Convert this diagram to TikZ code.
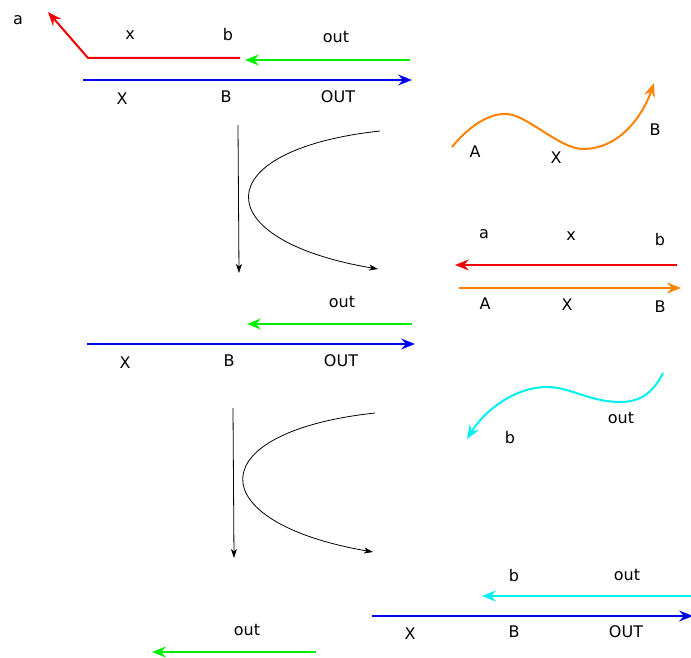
\documentclass[tikz,border=0pt]{standalone}
\usepackage{fontspec}
\setmainfont{DejaVu Sans}
\usetikzlibrary{arrows.meta}
\definecolor{cgreen}{RGB}{0,240,0}
\definecolor{cblue}{RGB}{0,0,240}
\definecolor{cred}{RGB}{240,0,0}
\definecolor{corange}{RGB}{255,130,0}
\definecolor{ccyan}{RGB}{0,240,240}
\begin{document}
\begin{tikzpicture}[x=1pt,y=-1pt,
  lbl/.style={inner sep=0pt,font=\fontsize{16}{18}\selectfont},
  thick line/.style={line width=2pt,-{Stealth[length=14pt,width=11pt,inset=5pt]}},
  thin line/.style={line width=0.8pt,-{Stealth[length=9pt,width=6pt,inset=2.5pt]}}]
\useasboundingbox (0,0) rectangle (691,658);
% top block
\coordinate (r1) at (240,58); \coordinate (r2) at (88,58); \coordinate (r3) at (48,12);
\draw[thick line,cred] (r1) -- (r2) -- (r3);
\node[lbl] (la1) at (18,20) {a};
\node[lbl] (lx1) at (130,35) {x};
\node[lbl] (lb1) at (228,35) {b};
\coordinate (g1s) at (410,60); \coordinate (g1e) at (245,60);
\draw[thick line,cgreen] (g1s) -- (g1e);
\node[lbl] (lo1) at (336,37) {out};
\coordinate (b1s) at (83,80); \coordinate (b1e) at (412,80);
\draw[thick line,cblue] (b1s) -- (b1e);
\node[lbl] (lX1) at (122,99) {X};
\node[lbl] (lB1) at (226,97) {B};
\node[lbl] (lO1) at (338,97) {OUT};
% black arrows 1
\coordinate (v1s) at (238,125); \coordinate (v1e) at (239,273);
\draw[thin line] (v1s) -- (v1e);
\coordinate (c1s) at (380,131); \coordinate (c1e) at (378,269);
\draw[thin line] (c1s) .. controls (206,150) and (206,240) .. (c1e);
% orange curve
\coordinate (o1) at (452,147); \coordinate (o2) at (507,114);
\coordinate (o3) at (583,149); \coordinate (o4) at (654,83);
\draw[thick line,corange] (o1) .. controls (470,125) and (490,113) .. (o2)
  .. controls (527,115) and (560,149) .. (o3)
  .. controls (620,149) and (643,115) .. (o4);
\node[lbl] (lA2) at (475,152) {A};
\node[lbl] (lX2) at (556,158) {X};
\node[lbl] (lB2) at (655,130) {B};
% red/orange pair
\coordinate (r4s) at (677,265); \coordinate (r4e) at (455,265);
\draw[thick line,cred] (r4s) -- (r4e);
\node[lbl] (la3) at (484,234) {a};
\node[lbl] (lx3) at (571,236) {x};
\node[lbl] (lb3) at (660,240) {b};
\coordinate (o5s) at (459,288); \coordinate (o5e) at (681,288);
\draw[thick line,corange] (o5s) -- (o5e);
\node[lbl] (lA3) at (485,304) {A};
\node[lbl] (lX3) at (567,305) {X};
\node[lbl] (lB3) at (660,307) {B};
% middle block
\coordinate (g2s) at (412,324); \coordinate (g2e) at (247,324);
\draw[thick line,cgreen] (g2s) -- (g2e);
\node[lbl] (lo2) at (342,302) {out};
\coordinate (b2s) at (87,344); \coordinate (b2e) at (415,344);
\draw[thick line,cblue] (b2s) -- (b2e);
\node[lbl] (lX4) at (125,363) {X};
\node[lbl] (lB4) at (229,361) {B};
\node[lbl] (lO4) at (341,361) {OUT};
% cyan curve
\coordinate (y1) at (663,373); \coordinate (y2) at (620,402);
\coordinate (y3) at (547,387); \coordinate (y4) at (467,439);
\draw[thick line,ccyan] (y1) .. controls (652,395) and (638,402) .. (y2)
  .. controls (590,402) and (570,387) .. (y3)
  .. controls (515,387) and (485,410) .. (y4);
\node[lbl] (lo5) at (621,418) {out};
\node[lbl] (lb5) at (510,438) {b};
% black arrows 2
\coordinate (v2s) at (233,408); \coordinate (v2e) at (234,558);
\draw[thin line] (v2s) -- (v2e);
\coordinate (c2s) at (375,413); \coordinate (c2e) at (373,552);
\draw[thin line] (c2s) .. controls (200,432) and (200,522) .. (c2e);
% bottom block
\coordinate (y5s) at (691,596); \coordinate (y5e) at (482,596);
\draw[thick line,ccyan] (y5s) -- (y5e);
\node[lbl] (lb6) at (514,576) {b};
\node[lbl] (lo6) at (627,575) {out};
\coordinate (b3s) at (372,616); \coordinate (b3e) at (693,616);
\draw[thick line,cblue] (b3s) -- (b3e);
\node[lbl] (lX6) at (410,634) {X};
\node[lbl] (lB6) at (514,632) {B};
\node[lbl] (lO6) at (626,632) {OUT};
\coordinate (g3s) at (316,652); \coordinate (g3e) at (152,652);
\draw[thick line,cgreen] (g3s) -- (g3e);
\node[lbl] (lo7) at (247,630) {out};
\end{tikzpicture}
\end{document}
